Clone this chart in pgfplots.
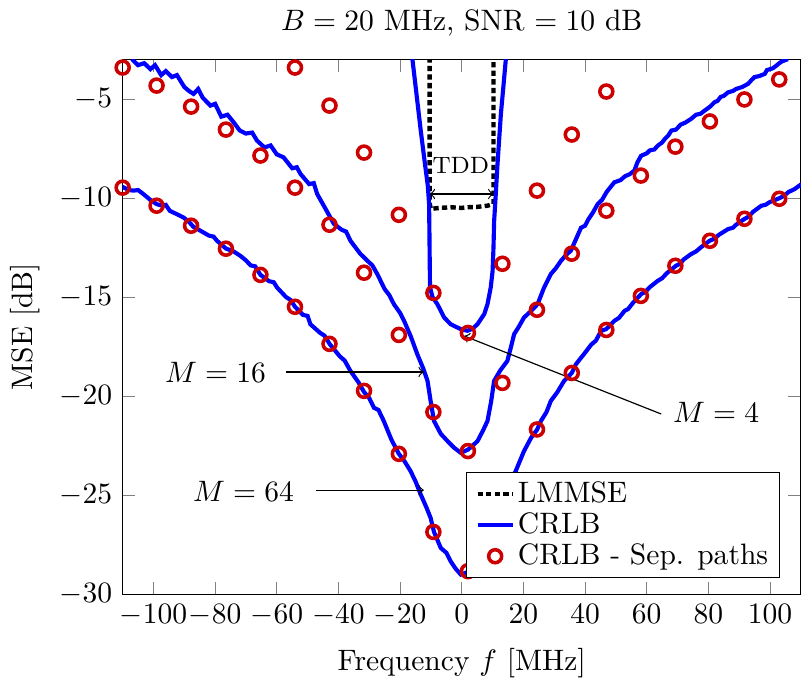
\documentclass[border=0pt]{standalone}
\usepackage{pgfplots}
\pgfplotsset{compat=1.18}
\definecolor{mkred}{rgb}{0.8,0,0}
\begin{document}
\begin{tikzpicture}
\begin{axis}[
  scale only axis,
  width=229.5pt, height=181.1pt,
  xmin=-110, xmax=110, ymin=-30, ymax=-3,
  xtick={-100,-80,...,100},
  ytick={-30,-25,...,-5},
  xlabel={Frequency $f$ [MHz]},
  ylabel={MSE [dB]},
  title={$B=20$ MHz, SNR $=10$ dB},
  title style={yshift=-1.8pt},
  xlabel style={yshift=-0.7pt},
  legend pos=south east,
  legend cell align=left,
  legend style={nodes={inner sep=1pt}},
  legend image code/.code={\draw[mark repeat=2,mark phase=2,#1] plot coordinates {(0cm,0cm) (0.21cm,0cm) (0.42cm,0cm)};},
]
% LMMSE
\addplot[black, line width=1.5pt, dash pattern=on 1.8pt off 1.1pt] coordinates {
(-10.4,-2.9)(-10.4,-10.3)(-10,-10.55)(-7,-10.5)(-3.6,-10.47)(0,-10.5)(1.85,-10.47)(5,-10.45)(8.35,-10.39)(10.3,-10.3)(10.3,-2.9)};
\addlegendentry{LMMSE}
% CRLB M=4
\addplot[blue, line width=1.4pt] coordinates {
(-16,-3)(-14.8,-4.6)(-13.3,-6.6)(-12,-8.2)(-11,-9.4)(-10.6,-10.3)(-10.5,-11.5)(-10.4,-13)(-10.3,-14.5)(-9.5,-15.0)(-7.9,-15.36)(-5.7,-16.03)(-3.6,-16.37)(-0.3,-16.62)(1.85,-16.7)(3.5,-16.6)(5.1,-16.37)(7.3,-15.86)(8.35,-15.36)(9.4,-14.52)(10.0,-13.7)(10.3,-12.5)(10.5,-11.2)(11.0,-9.9)(11.6,-8.29)(12.7,-5.76)(13.5,-4.4)(14.3,-3)};
\addlegendentry{CRLB}
% CRLB M=16
\addplot[blue, line width=1.4pt, forget plot] coordinates {
(-107.0,-3.0)(-105,-3.3)(-103,-3.2)(-101,-3.5)(-99.5,-3.3)(-97.5,-3.8)(-96,-3.6)(-94,-3.9)(-92.4,-3.8)(-90,-4.4)(-88.5,-4.6)(-87,-4.75)(-85.5,-4.5)(-84,-4.95)(-81.5,-5.34)(-80,-5.25)(-78,-5.9)(-76,-5.8)(-74,-6.18)(-72,-6.6)(-70,-6.75)(-68,-6.7)(-66.4,-7.11)(-64,-7.45)(-62,-7.35)(-60,-7.8)(-57.8,-7.95)(-55,-8.5)(-53.5,-8.45)(-52.3,-8.79)(-49.5,-9.3)(-48,-9.25)(-46.9,-9.8)(-44,-10.6)(-41.5,-11.3)(-39,-11.6)(-37.5,-11.7)(-36.1,-12.16)(-33,-12.8)(-30.6,-13.17)(-29,-13.4)(-27.4,-13.84)(-25,-14.6)(-23.5,-14.9)(-22,-15.36)(-20,-15.8)(-18.7,-16.2)(-16.5,-17.0)(-14.4,-17.89)(-12.5,-18.6)(-11.1,-19.23)(-10.1,-20.24)(-9.0,-21.25)(-6.8,-21.9)(-4.6,-22.27)(-2.5,-22.6)(-0.3,-22.86)(2,-22.7)(3.5,-22.5)(5.1,-22.27)(7,-21.7)(8.35,-21.25)(9.5,-20.3)(10.5,-19.23)(12.5,-18.7)(14.8,-18.22)(16,-17.5)(17.0,-16.87)(18.5,-16.5)(20.2,-16.03)(22.5,-15.7)(24.6,-15.36)(26.7,-14.52)(28.9,-13.84)(30.5,-13.55)(32.2,-13.17)(34,-12.85)(35.4,-12.66)(37,-12.1)(38.7,-11.5)(40,-11.4)(41,-11.1)(42.5,-10.75)(44.1,-10.31)(45.5,-10.1)(47,-9.7)(48,-9.5)(49.5,-9.21)(51.5,-9.1)(53,-8.9)(54.5,-8.8)(56.0,-8.62)(57,-8.2)(58.2,-7.87)(60,-7.75)(61,-7.6)(62.5,-7.55)(63.6,-7.36)(65,-7.2)(66,-7.0)(67,-6.85)(68.0,-6.60)(69.5,-6.55)(71,-6.3)(72.5,-6.2)(74.4,-6.01)(76,-5.8)(77.5,-5.75)(78.8,-5.59)(80.5,-5.4)(82.0,-5.17)(83,-5.1)(84,-4.9)(85,-4.85)(86.4,-4.67)(88,-4.6)(89,-4.5)(91,-4.4)(92.9,-4.24)(94,-4.05)(95,-3.9)(96.5,-3.85)(98.3,-3.74)(99,-3.55)(100,-3.5)(101,-3.45)(102.1,-3.32)(103,-3.2)(104,-3.1)(105.8,-3.0)};
% CRLB M=64
\addplot[blue, line width=1.4pt, forget plot] coordinates {
(-110.2,-9.43)(-108,-9.6)(-106.5,-9.63)(-105,-9.6)(-103.3,-9.8)(-101,-10.1)(-99,-10.31)(-97,-10.4)(-96,-10.35)(-94.7,-10.65)(-92,-10.85)(-90.3,-10.98)(-88.5,-11.2)(-87.1,-11.45)(-84.8,-11.65)(-82,-11.9)(-80.5,-11.95)(-79.4,-12.16)(-76.5,-12.55)(-74,-12.7)(-71.8,-12.92)(-70,-13.15)(-68.5,-13.4)(-67,-13.45)(-65.3,-13.88)(-62.5,-14.2)(-61,-14.25)(-59.9,-14.52)(-57,-15.0)(-55.5,-15.15)(-54.1,-15.49)(-51.5,-15.9)(-50,-15.95)(-49.1,-16.37)(-46,-16.8)(-44.5,-16.95)(-42.8,-17.38)(-39.5,-18.0)(-38,-18.2)(-36.1,-18.73)(-33.5,-19.3)(-31.7,-19.79)(-30,-20.1)(-28.5,-20.58)(-27,-20.7)(-25.3,-21.25)(-22.8,-22.2)(-20.4,-22.91)(-18.5,-23.3)(-16.6,-23.78)(-15,-24.3)(-13.3,-24.96)(-11.5,-25.6)(-10.1,-26.14)(-9.0,-26.85)(-6.8,-27.66)(-5,-27.9)(-3.6,-28.33)(-2,-28.7)(-0.3,-29.0)(1.5,-28.9)(3,-28.7)(6,-27.6)(9,-26.5)(12,-25.5)(15,-24.5)(17.5,-23.78)(20.2,-22.77)(22.5,-22.1)(24.4,-21.7)(25.7,-21.25)(27.5,-20.8)(28.9,-20.24)(31,-19.8)(33.2,-19.23)(35.7,-18.83)(37,-18.4)(38.7,-18.06)(39.6,-17.89)(42,-17.4)(43.5,-17.2)(45.2,-16.71)(46.8,-16.62)(48,-16.45)(49.5,-16.2)(51,-16.05)(52.8,-15.70)(54,-15.6)(55.5,-15.3)(58.2,-14.85)(59.5,-14.75)(61,-14.5)(63.6,-14.18)(65,-14.05)(66.5,-13.8)(69.5,-13.42)(71,-13.3)(72,-13.1)(74.4,-12.83)(76,-12.7)(77.5,-12.5)(80.4,-12.16)(82,-12.05)(83.5,-11.85)(86.4,-11.57)(88,-11.5)(89,-11.35)(91.8,-11.05)(93,-10.95)(94.5,-10.7)(97.2,-10.39)(98.5,-10.35)(100,-10.2)(102.9,-10.02)(104.5,-9.9)(106,-9.7)(108,-9.55)(110.2,-9.30)};
% Sep paths M=4
\addplot[only marks, mark=o, mark size=2.2pt, mkred, line width=1.2pt] coordinates {
(-54.1,-3.42)(-42.9,-5.34)(-31.7,-7.71)(-20.4,-10.85)(-9.2,-14.79)(2.0,-16.81)(13.2,-13.32)(24.4,-9.63)(35.7,-6.80)(46.9,-4.63)};
\addlegendentry{CRLB - Sep. paths}
% Sep paths M=16
\addplot[only marks, mark=o, mark size=2.2pt, mkred, line width=1.2pt, forget plot] coordinates {
(-110.0,-3.42)(-99.0,-4.33)(-87.8,-5.39)(-76.5,-6.55)(-65.3,-7.86)(-54.1,-9.48)(-42.9,-11.35)(-31.7,-13.77)(-20.4,-16.91)(-9.2,-20.80)(2.0,-22.77)(13.2,-19.33)(24.4,-15.64)(35.7,-12.81)(46.9,-10.64)(58.1,-8.87)(69.3,-7.41)(80.5,-6.14)(91.7,-5.03)(103.0,-4.02)};
% Sep paths M=64
\addplot[only marks, mark=o, mark size=2.2pt, mkred, line width=1.2pt, forget plot] coordinates {
(-110.0,-9.48)(-99.0,-10.39)(-87.8,-11.40)(-76.5,-12.56)(-65.3,-13.88)(-54.1,-15.49)(-42.9,-17.36)(-31.7,-19.73)(-20.4,-22.91)(-9.2,-26.85)(2.0,-28.83)(13.2,-25.8)(24.4,-21.68)(35.7,-18.83)(46.9,-16.66)(58.1,-14.94)(69.3,-13.42)(80.5,-12.16)(91.7,-11.05)(103.0,-10.04)};
% annotations
\draw[<->] (axis cs:-10.4,-9.8) -- (axis cs:10.3,-9.8);
\node[font=\footnotesize] at (axis cs:-0.3,-8.38) {TDD};
\node at (axis cs:-79.9,-18.8) {$M=16$};
\draw[->] (axis cs:-56.9,-18.78) -- (axis cs:-12.3,-18.78);
\node at (axis cs:-70.8,-24.79) {$M=64$};
\draw[->] (axis cs:-47.4,-24.74) -- (axis cs:-12.3,-24.74);
\node at (axis cs:82.5,-20.84) {$M=4$};
\draw[->] (axis cs:64.7,-20.9) -- (axis cs:0.75,-16.96);
\end{axis}
\end{tikzpicture}
\end{document}
